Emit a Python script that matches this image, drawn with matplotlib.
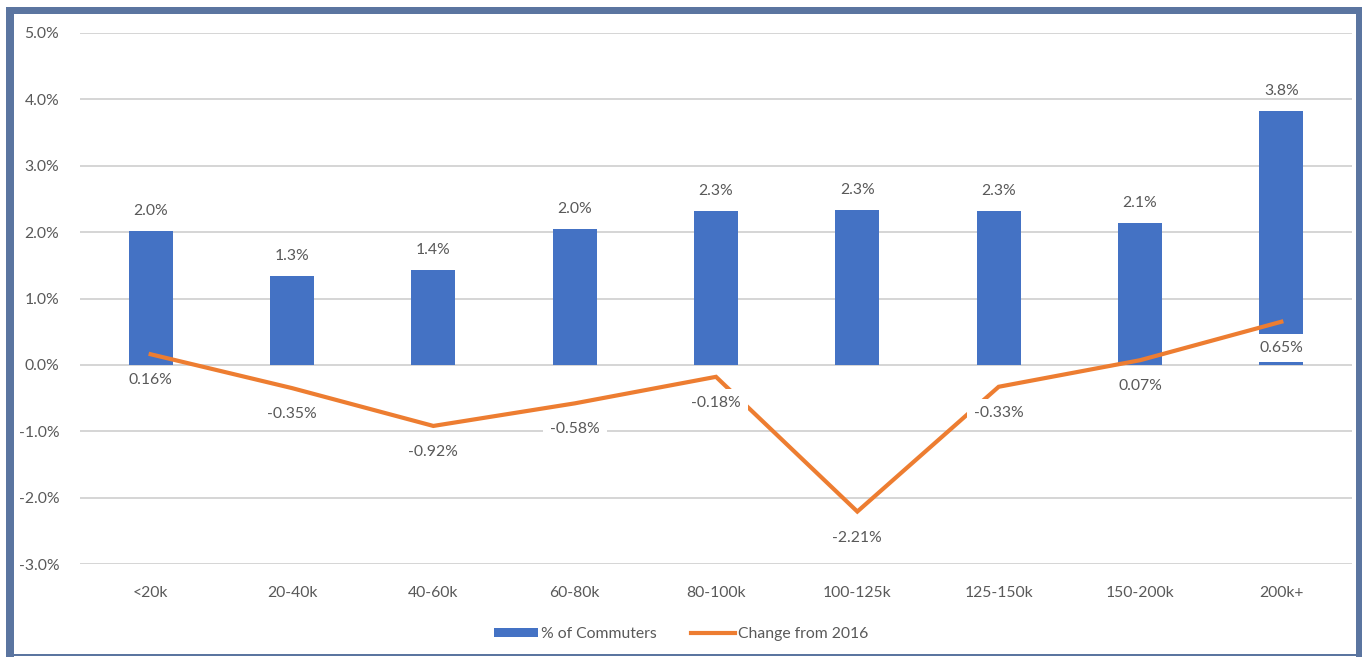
import numpy as np
import matplotlib.pyplot as plt
from matplotlib.patches import Rectangle
from matplotlib.ticker import FuncFormatter

plt.rcParams['font.family'] = ['Lato', 'DejaVu Sans']

# Data
brackets = ["<20k", "20-40k", "40-60k", "60-80k", "80-100k",
            "100-125k", "125-150k", "150-200k", "200k+"]
commuters = [2.01, 1.34, 1.43, 2.04, 2.32, 2.34, 2.32, 2.14, 3.83]
change = [0.16, -0.35, -0.92, -0.58, -0.18, -2.21, -0.33, 0.07, 0.65]

blue = "#4472C4"
orange = "#ED7D31"
grey = "#595959"
fs = 11.3

W, H = 1362, 657
fig = plt.figure(figsize=(W / 100, H / 100), dpi=100)
ax = fig.add_axes([80 / W, (H - 564) / H, (1352 - 80) / W, (564 - 33) / H])

x = np.arange(len(brackets))
bars = ax.bar(x, commuters, width=0.31, color=blue, zorder=2, label="% of Commuters")
line, = ax.plot(x, change, color=orange, lw=3, zorder=3,
                solid_joinstyle="miter", label="Change from 2016")

ax.set_xlim(-0.5, len(brackets) - 0.5)
ax.set_ylim(-3, 5)
ax.set_yticks(np.arange(-3, 5.1, 1))
ax.yaxis.set_major_formatter(FuncFormatter(lambda v, p: f"{v:.1f}%"))
ax.set_xticks(x)
ax.set_xticklabels(brackets)
ax.grid(axis="y", color="#D5D5D5", lw=1.4, zorder=0)
ax.set_axisbelow(True)
for s in ax.spines.values():
    s.set_visible(False)
ax.tick_params(axis="y", length=0, pad=15, labelsize=fs, labelcolor=grey)
ax.tick_params(axis="x", length=0, pad=16, labelsize=fs, labelcolor=grey)

# value labels
for xi, v in zip(x, commuters):
    ax.annotate(f"{v:.1f}%", (xi, v), xytext=(0, 20), textcoords="offset pixels",
                ha="center", va="center", fontsize=fs, color=grey, zorder=5)
for xi, v in zip(x, change):
    ax.annotate(f"{v:.2f}%", (xi, v), xytext=(0, -26), textcoords="offset pixels",
                ha="center", va="center", fontsize=fs, color=grey, zorder=5,
                bbox=dict(boxstyle="square,pad=0.45", fc="white", ec="none"))

fig.legend(handles=[bars, line], loc="lower center", bbox_to_anchor=(0.5, 0.003),
           ncol=2, frameon=False, fontsize=fs, labelcolor=grey,
           handlelength=2.8, handleheight=0.5, handletextpad=0.2, columnspacing=2.2)

# frame around the chart
border = "#5B75A0"
for (x0, y0, w, h) in [(6, 7, 8, 650), (6, 7, 1356, 7), (1356, 7, 6, 650), (6, 654, 1356, 2)]:
    fig.add_artist(Rectangle((x0 / W, 1 - (y0 + h) / H), w / W, h / H,
                             transform=fig.transFigure, fc=border, ec="none", zorder=10))

fig.savefig("out.png", dpi=100)
